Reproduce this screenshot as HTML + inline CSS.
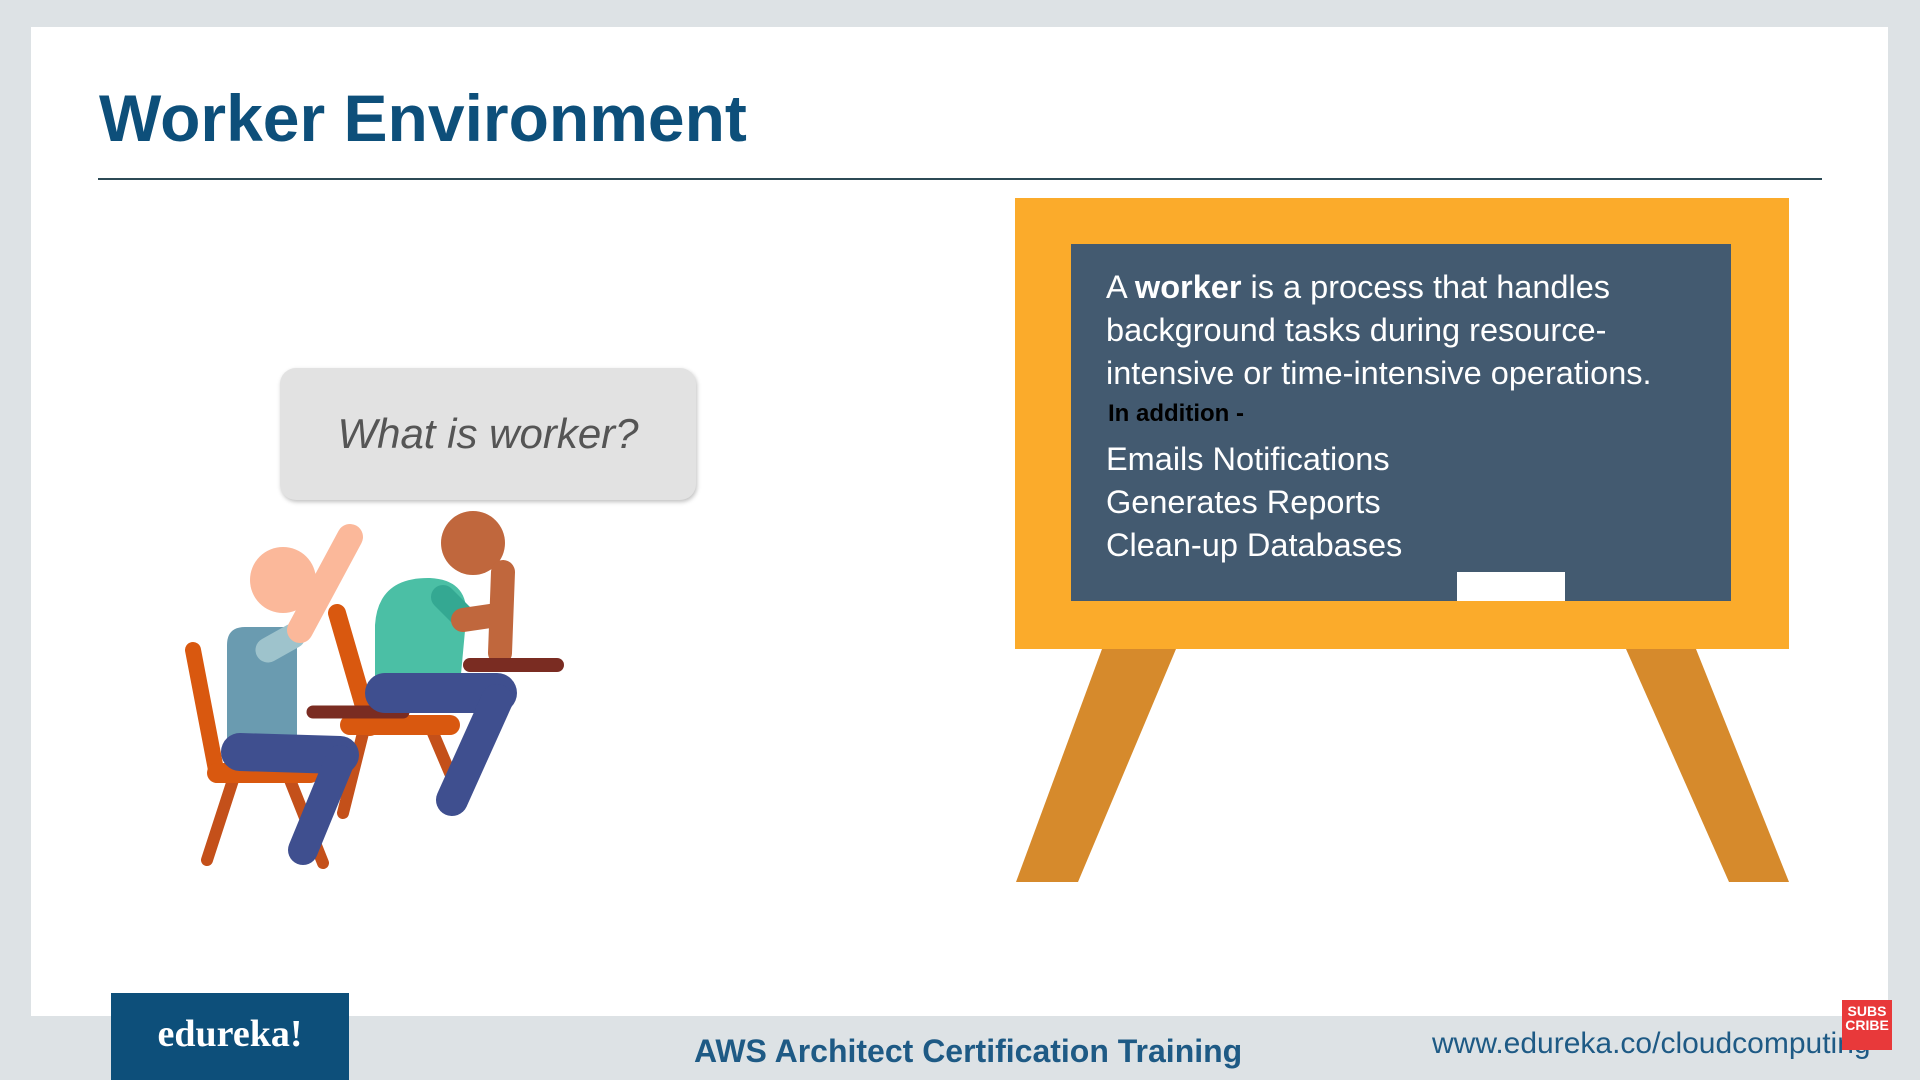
<!DOCTYPE html>
<html><head><meta charset="utf-8"><style>
body{margin:0;width:1920px;height:1080px;background:#dde2e5;position:relative;overflow:hidden;font-family:"Liberation Sans",sans-serif}
.abs{position:absolute}
</style></head><body>
<div class="abs" style="left:31px;top:27px;width:1857px;height:989px;background:#fff"></div>
<div class="abs" style="left:99px;top:80px;font-size:66px;font-weight:bold;color:#0d4f7a;white-space:nowrap">Worker Environment</div>
<div class="abs" style="left:98px;top:178px;width:1724px;height:2px;background:#2c4a55"></div>

<div class="abs" style="left:280px;top:368px;width:416px;height:132px;background:#e2e2e2;border-radius:16px;box-shadow:1px 2px 4px rgba(0,0,0,0.25);display:flex;align-items:center;justify-content:center;font-style:italic;font-size:42px;color:#555">What is worker?</div>

<svg class="abs" style="left:0;top:0" width="700" height="900" viewBox="0 0 700 900">
<g stroke-linecap="round" fill="none">
<line x1="193" y1="650" x2="217" y2="775" stroke="#d9580f" stroke-width="16"/>
<line x1="233" y1="780" x2="207" y2="860" stroke="#c4501a" stroke-width="12"/>
<line x1="290" y1="780" x2="323" y2="863" stroke="#c4501a" stroke-width="12"/>
<line x1="337" y1="613" x2="370" y2="727" stroke="#d9580f" stroke-width="18"/>
<line x1="363" y1="733" x2="343" y2="813" stroke="#c4501a" stroke-width="12"/>
<line x1="433" y1="733" x2="450" y2="773" stroke="#c4501a" stroke-width="12"/>
<line x1="217" y1="773" x2="310" y2="773" stroke="#d9580f" stroke-width="20"/>
</g>
<circle cx="283" cy="580" r="33" fill="#fbb89a"/>
<path d="M227 740 L227 645 Q227 627 245 627 L297 627 L297 740 Z" fill="#6a9bb0"/>
<g stroke-linecap="round" fill="none">
<line x1="268" y1="650" x2="293" y2="636" stroke="#9ec3cc" stroke-width="25"/>
<line x1="300" y1="630" x2="350" y2="537" stroke="#fbb89a" stroke-width="26"/>
<line x1="240" y1="752" x2="340" y2="755" stroke="#3f4f8f" stroke-width="38"/>
<line x1="340" y1="760" x2="303" y2="850" stroke="#3f4f8f" stroke-width="30"/>
<line x1="350" y1="725" x2="450" y2="725" stroke="#d9580f" stroke-width="20"/>
<line x1="313" y1="712" x2="403" y2="712" stroke="#7a2c22" stroke-width="13"/>
</g>
<circle cx="473" cy="543" r="32" fill="#c0673d"/>
<path d="M375 695 L375 625 Q378 577 430 578 Q470 580 466 620 L460 685 Z" fill="#4bbfa5"/>
<g stroke-linecap="round" fill="none">
<line x1="443" y1="597" x2="463" y2="617" stroke="#34a892" stroke-width="24"/>
<line x1="463" y1="620" x2="497" y2="615" stroke="#c0673d" stroke-width="24"/>
<line x1="503" y1="572" x2="500" y2="653" stroke="#c0673d" stroke-width="24"/>
<line x1="470" y1="665" x2="557" y2="665" stroke="#7a2c22" stroke-width="14"/>
<line x1="385" y1="693" x2="497" y2="693" stroke="#3f4f8f" stroke-width="40"/>
<line x1="497" y1="700" x2="452" y2="800" stroke="#3f4f8f" stroke-width="32"/>
</g>
</svg>

<svg class="abs" style="left:0;top:0" width="1920" height="1080">
<polygon points="1102,649 1176,649 1078,882 1016,882" fill="#d68a2c"/>
<polygon points="1626,649 1696,649 1789,882 1729,882" fill="#d68a2c"/>
</svg>
<div class="abs" style="left:1015px;top:198px;width:774px;height:451px;background:#fbab2b"></div>
<div class="abs" style="left:1071px;top:244px;width:660px;height:357px;background:#435a70"></div>
<div class="abs" style="left:1457px;top:572px;width:108px;height:29px;background:#fff"></div>
<div class="abs" style="left:1106px;top:266px;width:580px;font-size:32.5px;line-height:43px;color:#fff">A <b>worker</b> is a process that handles background tasks during resource-intensive or time-intensive operations.</div>
<div class="abs" style="left:1108px;top:400px;font-size:24px;font-weight:bold;color:#000">In addition -</div>
<div class="abs" style="left:1106px;top:438px;font-size:32.5px;line-height:43px;color:#fff">Emails Notifications<br>Generates Reports<br>Clean-up Databases</div>

<div class="abs" style="left:111px;top:993px;width:238px;height:87px;background:#0d4f7a;color:#fff;font-family:'Liberation Serif',serif;font-weight:bold;font-size:38px;text-align:center;line-height:82px">edureka!</div>
<div class="abs" style="left:694px;top:1033px;font-size:32px;font-weight:bold;color:#1e5a85;white-space:nowrap">AWS Architect Certification Training</div>
<div class="abs" style="left:1432px;top:1027px;font-size:30px;color:#1e5a85;white-space:nowrap">www.edureka.co/cloudcomputing</div>
<div class="abs" style="left:1842px;top:1000px;width:50px;height:50px;background:#e8393a;color:#fff;font-weight:bold;font-size:14px;line-height:14px;text-align:center;padding-top:4px;box-sizing:border-box">SUBS<br>CRIBE</div>
</body></html>
